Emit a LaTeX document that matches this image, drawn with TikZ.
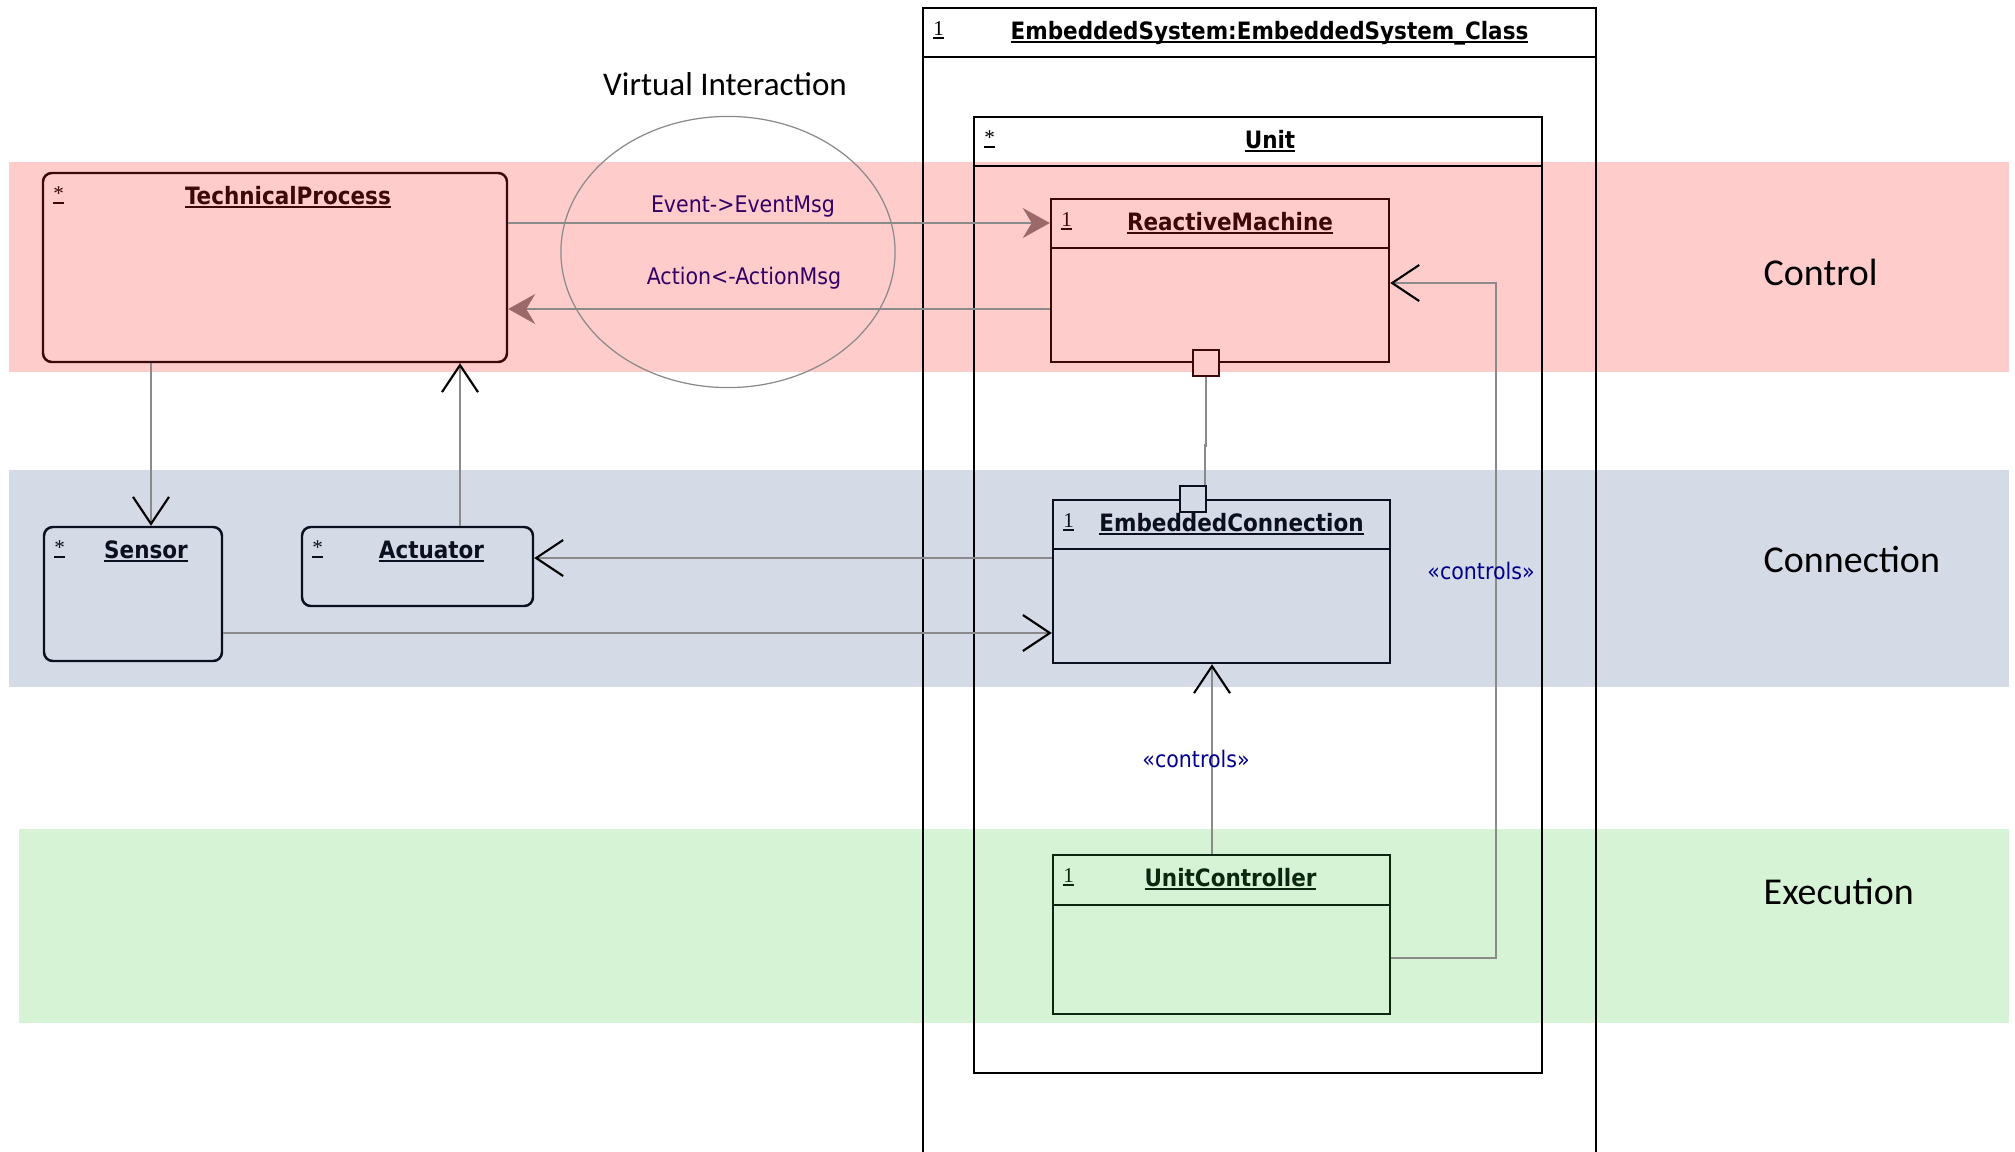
\documentclass[tikz,border=0pt]{standalone}
\usepackage{fontspec}
\usetikzlibrary{arrows.meta,fit,shapes.geometric}

\newfontfamily\umlfont{DejaVu Sans Condensed}
\newfontfamily\notefont{Carlito}
\newfontfamily\multfont{Liberation Serif}

\definecolor{ctrlband}{RGB}{255,204,204}
\definecolor{connband}{RGB}{212,218,230}
\definecolor{execband}{RGB}{214,243,214}
\definecolor{ctrlink}{RGB}{60,8,8}
\definecolor{connink}{RGB}{10,16,32}
\definecolor{execink}{RGB}{10,40,15}
\definecolor{msgink}{RGB}{50,0,100}
\definecolor{stereoink}{RGB}{0,0,140}
\definecolor{msgbrown}{RGB}{155,105,105}
\definecolor{linkgray}{RGB}{138,138,138}

\newcommand{\ulname}[1]{\setbox0\hbox{#1}\rlap{\rule[-0.9pt]{\wd0}{0.45pt}}\box0}

\tikzset{
  umlbox/.style={draw, line width=0.7pt, inner sep=0pt},
  roundbox/.style={umlbox, rounded corners=2.5pt},
  classname/.style={anchor=base, inner sep=0pt, font=\umlfont\bfseries\fontsize{6.8}{8}\selectfont},
  mult/.style={anchor=base west, inner sep=0pt, font=\multfont\fontsize{6}{7}\selectfont},
  port/.style={draw, line width=0.7pt, minimum size=0.26cm, inner sep=0pt},
  link/.style={draw=linkgray, line width=0.3pt},
  opentip/.style={-{Straight Barb[length=0.27cm,width=0.36cm,color=black,line width=0.6pt]}},
  msgtip/.style={-{Stealth[length=0.27cm,width=0.30cm,inset=0.09cm,color=msgbrown]}},
  msglabel/.style={inner sep=0pt, text=msgink, font=\umlfont\fontsize{6.5}{8}\selectfont},
  stereo/.style={inner sep=0pt, text=stereoink, font=\umlfont\fontsize{6.5}{8}\selectfont},
  layer/.style={anchor=west, inner sep=0pt, font=\notefont\fontsize{10.8}{13}\selectfont},
}

\begin{document}
\begin{tikzpicture}[x=0.01cm, y=-0.01cm]
\clip (0,0) rectangle (2015,1151);
\fill[white] (0,0) rectangle (2015,1151);

% layers
\fill[ctrlband] (9,162) rectangle (2009,372);
\fill[connband] (9,470) rectangle (2009,687);
\fill[execband] (19,829) rectangle (2009,1023);
\node[layer] (ctrllayer) at (1763,272) {Control};
\node[layer] (connlayer) at (1763,559) {Connection};
\node[layer] (execlayer) at (1763,891) {Execution};

% virtual interaction
\node[ellipse, draw=linkgray, line width=0.35pt, inner sep=0pt, minimum width=3.34cm, minimum height=2.71cm] (virt) at (728,252) {};
\node[inner sep=0pt, font=\notefont\fontsize{9.4}{11}\selectfont] (virtlabel) at (725,84) {Virtual Interaction};

% environment side
\node[roundbox, draw=ctrlink, fit={(43,173) (507,362)}] (tp) {};
\node[classname, text=ctrlink] (tpname) at ([shift={(13,33)}]tp.north) {\ulname{TechnicalProcess}};
\node[mult, text=ctrlink] (tpmult) at ([shift={(11,29)}]tp.north west) {\ulname{*}};

\node[roundbox, draw=connink, fit={(44,527) (222,661)}] (sensor) {};
\node[classname, text=connink] (sensorname) at ([shift={(13,33)}]sensor.north) {\ulname{Sensor}};
\node[mult, text=connink] (sensormult) at ([shift={(11,29)}]sensor.north west) {\ulname{*}};

\node[roundbox, draw=connink, fit={(302,527) (533,606)}] (actuator) {};
\node[classname, text=connink] (actuatorname) at ([shift={(14,33)}]actuator.north) {\ulname{Actuator}};
\node[mult, text=connink] (actuatormult) at ([shift={(11,29)}]actuator.north west) {\ulname{*}};

% embedded system
\node[umlbox, fit={(923,8) (1596,1170)}] (es) {};
\draw[line width=0.7pt] ([shift={(0,50)}]es.north west) -- ([shift={(0,50)}]es.north east);
\node[classname] (esname) at ([shift={(10,33)}]es.north) {\ulname{EmbeddedSystem:EmbeddedSystem\_Class}};
\node[mult] (esmult) at ([shift={(11,29)}]es.north west) {\ulname{1}};

\node[umlbox, fit={(974,117) (1542,1073)}] (unit) {};
\draw[line width=0.7pt] ([shift={(0,50)}]unit.north west) -- ([shift={(0,50)}]unit.north east);
\node[classname] (unitname) at ([shift={(12,33)}]unit.north) {\ulname{Unit}};
\node[mult] (unitmult) at ([shift={(11,29)}]unit.north west) {\ulname{*}};

\node[umlbox, draw=ctrlink, fit={(1051,199) (1389,362)}] (rm) {};
\draw[ctrlink, line width=0.7pt] ([shift={(0,50)}]rm.north west) -- ([shift={(0,50)}]rm.north east);
\node[classname, text=ctrlink] (rmname) at ([shift={(10,33)}]rm.north) {\ulname{ReactiveMachine}};
\node[mult, text=ctrlink] (rmmult) at ([shift={(11,29)}]rm.north west) {\ulname{1}};

\node[umlbox, draw=connink, fit={(1053,500) (1390,663)}] (ec) {};
\draw[connink, line width=0.7pt] ([shift={(0,50)}]ec.north west) -- ([shift={(0,50)}]ec.north east);
\node[classname, text=connink] (ecname) at ([shift={(10,33)}]ec.north) {\ulname{EmbeddedConnection}};
\node[mult, text=connink] (ecmult) at ([shift={(11,29)}]ec.north west) {\ulname{1}};

\node[umlbox, draw=execink, fit={(1053,855) (1390,1014)}] (uc) {};
\draw[execink, line width=0.7pt] ([shift={(0,51)}]uc.north west) -- ([shift={(0,51)}]uc.north east);
\node[classname, text=execink] (ucname) at ([shift={(9,33)}]uc.north) {\ulname{UnitController}};
\node[mult, text=execink] (ucmult) at ([shift={(11,29)}]uc.north west) {\ulname{1}};

% ports
\coordinate (rmportx) at (1206,0);
\coordinate (ecportx) at (1193,0);
\node[port, draw=ctrlink, fill=ctrlband] (rmport) at (rm.south -| rmportx) {};
\node[port, draw=connink, fill=connband] (ecport) at (ec.north -| ecportx) {};
\draw[draw=linkgray, line width=0.6pt] (rmport.south) -- ++(0,68) -| ([shift={(-2,0)}]ecport.north east);

% messages
\coordinate (evt) at (0,223);
\coordinate (act) at (0,309);
\draw[link, msgtip] (tp.east |- evt) -- (rm.west |- evt);
\draw[link, msgtip] (rm.west |- act) -- (tp.east |- act);
\node[msglabel] (evtlabel) at (743,207) {Event->EventMsg};
\node[msglabel] (actlabel) at (744,278) {Action<-ActionMsg};

% associations
\coordinate (sensx) at (151,0);
\coordinate (actx) at (460,0);
\coordinate (acty) at (0,558);
\coordinate (sensy) at (0,633);
\draw[link, opentip] (tp.south -| sensx) -- (sensor.north -| sensx);
\draw[link, opentip] (actuator.north -| actx) -- (tp.south -| actx);
\draw[link, opentip] (ec.west |- acty) -- (actuator.east |- acty);
\draw[link, opentip] (sensor.east |- sensy) -- (ec.west |- sensy);

\coordinate (ucx) at (1212,0);
\draw[link, opentip] (uc.north -| ucx) -- (ec.south -| ucx);
\node[stereo] (ctrlsA) at (1196,759) {«controls»};

\coordinate (bendlow) at (1496,958);
\coordinate (bendhigh) at (1496,283);
\draw[link, opentip] (uc.east |- bendlow) -- (bendlow) -- (bendhigh) -- (rm.east |- bendhigh);
\node[stereo] (ctrlsB) at (1481,571) {«controls»};
\end{tikzpicture}
\end{document}
